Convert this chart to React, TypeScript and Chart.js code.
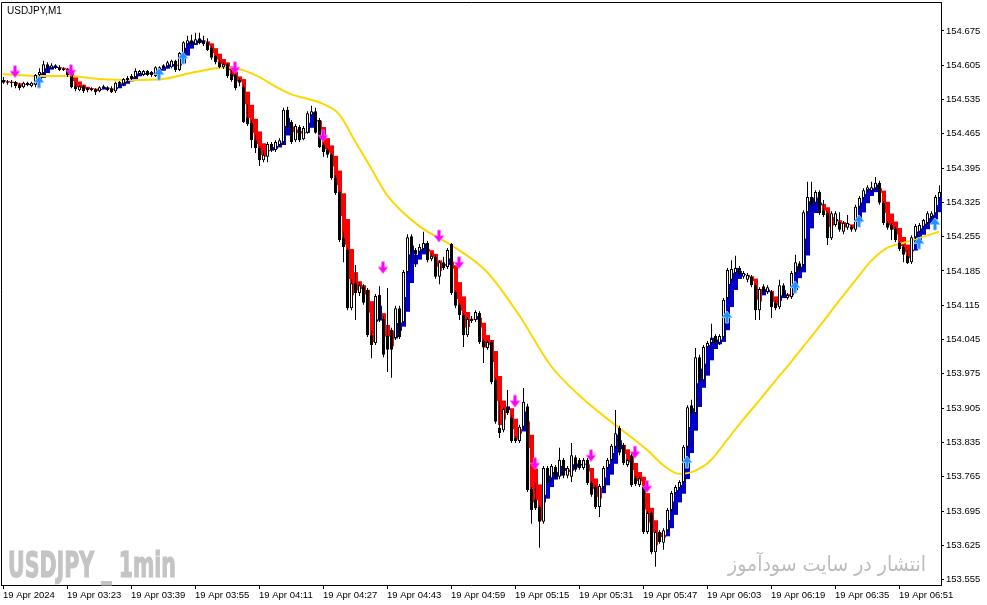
import React, { useEffect, useRef } from "react";
import { Chart, registerables } from "chart.js";

Chart.register(...registerables);

const chartTitle = "USDJPY,M1";
const watermarkLeft = "USDJPY _ 1min";
const watermarkRight = "انتشار در سایت سودآموز";
const sessionDate = "19 Apr";
const firstBarMinute = 3 * 60 + 7;

const xTickLabels = [
  "19 Apr 2024", "19 Apr 03:23", "19 Apr 03:39", "19 Apr 03:55", "19 Apr 04:11",
  "19 Apr 04:27", "19 Apr 04:43", "19 Apr 04:59", "19 Apr 05:15", "19 Apr 05:31",
  "19 Apr 05:47", "19 Apr 06:03", "19 Apr 06:19", "19 Apr 06:35", "19 Apr 06:51",
];

const priceTicks = [
  153.555, 153.625, 153.695, 153.765, 153.835, 153.905, 153.975, 154.045, 154.115,
  154.185, 154.255, 154.325, 154.395, 154.465, 154.535, 154.605, 154.675,
];

const opens = [
  154.575,154.571,154.569,154.571,154.565,154.560,154.569,154.562,154.565,154.585,
  154.589,154.607,154.599,154.605,154.601,154.595,154.597,154.585,154.562,154.554,
  154.562,154.554,154.558,154.556,154.552,154.558,154.560,154.558,154.552,154.567,
  154.567,154.575,154.579,154.581,154.587,154.585,154.593,154.591,154.583,154.595,
  154.605,154.603,154.601,154.614,154.595,154.630,154.648,154.656,154.648,154.660,
  154.656,154.652,154.640,154.624,154.611,154.601,154.607,154.587,154.585,154.575,
  154.560,154.497,154.487,154.452,154.436,154.411,154.418,154.444,154.432,154.442,
  154.448,154.514,154.489,154.452,154.479,154.454,154.467,154.503,154.511,154.493,
  154.442,154.432,154.422,154.375,154.346,154.252,154.228,154.109,154.160,154.140,
  154.154,154.146,154.054,154.038,154.136,154.087,154.052,154.065,154.048,154.109,
  154.081,154.183,154.256,154.228,154.224,154.230,154.242,154.209,154.214,154.173,
  154.203,154.193,154.240,154.142,154.116,154.095,154.054,154.087,154.085,154.099,154.042,
  154.028,154.040,153.962,153.865,153.860,153.907,153.885,153.844,153.838,153.867,
  153.909,153.740,153.718,153.703,153.673,153.783,153.762,153.785,153.765,153.799,
  153.767,153.765,153.805,153.799,153.783,153.799,153.752,153.744,153.703,153.744,
  153.783,153.799,153.826,153.865,153.830,153.789,153.809,153.762,153.748,153.744,
  153.652,153.691,153.611,153.652,153.630,153.656,153.697,153.732,153.742,153.754,
  153.826,153.911,153.895,154.009,153.962,154.030,154.038,154.052,154.038,154.050,
  154.130,154.167,154.181,154.191,154.173,154.167,154.173,154.156,154.105,154.154,
  154.142,154.142,154.120,154.111,154.156,154.130,154.132,154.181,154.201,154.197,
  154.305,154.336,154.324,154.346,154.309,154.303,154.252,154.279,154.285,154.265,
  154.273,154.275,154.269,154.316,154.334,154.350,154.348,154.354,154.365,154.324,
  154.283,154.279,154.271,154.242,154.234,154.216,154.203,154.254,154.265,154.275,
  154.283,154.295,154.303,154.334,
];

const highs = [
  154.581,154.575,154.575,154.573,154.569,154.571,154.571,154.571,154.587,154.599,
  154.614,154.611,154.609,154.607,154.605,154.601,154.599,154.587,154.571,154.565,
  154.565,154.560,154.560,154.558,154.562,154.565,154.562,154.562,154.571,154.573,
  154.579,154.583,154.587,154.599,154.595,154.595,154.595,154.593,154.603,154.603,
  154.607,154.614,154.616,154.616,154.632,154.654,154.665,154.667,154.671,154.671,
  154.665,154.660,154.644,154.626,154.616,154.611,154.609,154.595,154.591,154.579,
  154.565,154.526,154.493,154.462,154.440,154.432,154.448,154.448,154.452,154.456,
  154.518,154.520,154.493,154.485,154.483,154.481,154.511,154.522,154.518,154.497,
  154.446,154.436,154.426,154.381,154.350,154.265,154.232,154.167,154.197,154.162,
  154.158,154.150,154.065,154.138,154.154,154.093,154.150,154.069,154.114,154.114,
  154.187,154.260,154.260,154.232,154.240,154.265,154.246,154.220,154.218,154.207,
  154.214,154.232,154.242,154.146,154.120,154.099,154.091,154.093,154.105,154.103,154.046,
  154.044,154.044,153.967,153.918,153.907,153.942,153.891,153.848,153.871,153.946,
  153.914,153.744,153.752,153.707,153.787,153.787,153.791,153.789,153.824,153.803,
  153.787,153.834,153.809,153.803,153.803,153.803,153.756,153.748,153.750,153.787,
  153.803,153.832,153.901,153.869,153.834,153.803,153.814,153.767,153.767,153.748,
  153.695,153.695,153.656,153.656,153.660,153.701,153.736,153.748,153.758,153.830,
  153.911,153.922,154.028,154.014,154.034,154.042,154.077,154.056,154.056,154.130,
  154.191,154.207,154.216,154.195,154.185,154.181,154.177,154.160,154.152,154.158,
  154.156,154.146,154.126,154.167,154.160,154.140,154.185,154.218,154.205,154.309,
  154.367,154.367,154.350,154.350,154.330,154.307,154.307,154.307,154.305,154.287,
  154.299,154.279,154.320,154.338,154.354,154.360,154.367,154.377,154.369,154.328,
  154.287,154.283,154.275,154.246,154.238,154.228,154.258,154.281,154.283,154.291,
  154.307,154.307,154.340,154.360,
];

const lows = [
  154.567,154.565,154.560,154.558,154.554,154.558,154.562,154.560,154.560,154.579,
  154.585,154.595,154.597,154.597,154.593,154.593,154.581,154.558,154.552,154.552,
  154.548,154.550,154.552,154.544,154.550,154.556,154.552,154.548,154.548,154.560,
  154.562,154.571,154.575,154.579,154.583,154.583,154.583,154.581,154.581,154.591,
  154.597,154.599,154.599,154.591,154.593,154.626,154.644,154.644,154.646,154.648,
  154.644,154.634,154.616,154.607,154.599,154.597,154.579,154.571,154.554,154.562,
  154.487,154.481,154.436,154.426,154.399,154.407,154.407,154.428,154.428,154.438,
  154.444,154.477,154.444,154.448,154.448,154.452,154.465,154.501,154.465,154.436,
  154.418,154.416,154.371,154.340,154.244,154.203,154.105,154.105,154.085,154.134,
  154.116,154.050,154.007,154.034,154.081,154.009,153.979,153.967,154.044,154.046,
  154.077,154.179,154.207,154.193,154.220,154.228,154.203,154.205,154.169,154.158,
  154.187,154.189,154.136,154.109,154.085,154.030,154.050,154.079,154.081,154.036,153.997,
  154.024,153.954,153.873,153.844,153.856,153.891,153.834,153.834,153.834,153.862,
  153.734,153.669,153.697,153.620,153.669,153.748,153.758,153.760,153.760,153.762,
  153.762,153.754,153.775,153.779,153.779,153.748,153.724,153.699,153.683,153.740,
  153.779,153.795,153.822,153.809,153.789,153.785,153.744,153.746,153.744,153.648,
  153.648,153.607,153.581,153.628,153.616,153.652,153.693,153.728,153.738,153.750,
  153.822,153.891,153.891,153.958,153.958,154.026,154.034,154.034,154.034,154.046,
  154.126,154.162,154.177,154.175,154.169,154.162,154.152,154.085,154.085,154.138,
  154.138,154.089,154.105,154.107,154.132,154.126,154.128,154.177,154.183,154.193,
  154.301,154.316,154.320,154.299,154.295,154.238,154.248,154.275,154.265,154.260,
  154.269,154.265,154.265,154.311,154.330,154.346,154.344,154.350,154.320,154.279,
  154.269,154.248,154.244,154.226,154.203,154.199,154.199,154.250,154.260,154.271,
  154.279,154.291,154.299,154.330,
];

const closes = [
  154.569,154.569,154.571,154.562,154.558,154.569,154.565,154.569,154.585,154.591,
  154.607,154.599,154.605,154.601,154.595,154.597,154.585,154.560,154.556,154.562,
  154.552,154.558,154.554,154.550,154.560,154.562,154.554,154.550,154.569,154.571,
  154.577,154.579,154.583,154.593,154.593,154.593,154.585,154.585,154.601,154.601,
  154.599,154.611,154.614,154.595,154.630,154.652,154.656,154.648,154.658,154.650,
  154.648,154.636,154.620,154.611,154.601,154.607,154.583,154.575,154.558,154.569,
  154.489,154.485,154.452,154.436,154.411,154.422,154.444,154.432,154.448,154.452,
  154.514,154.479,154.448,154.481,154.452,154.477,154.507,154.511,154.467,154.438,
  154.428,154.422,154.375,154.344,154.248,154.234,154.109,154.160,154.140,154.156,
  154.120,154.054,154.034,154.134,154.085,154.014,154.024,154.024,154.109,154.050,
  154.183,154.254,154.224,154.218,154.234,154.242,154.207,154.216,154.173,154.203,
  154.191,154.228,154.140,154.114,154.095,154.054,154.087,154.083,154.101,154.040,154.030,
  154.040,153.958,153.877,153.854,153.903,153.895,153.838,153.838,153.867,153.918,
  153.738,153.697,153.701,153.673,153.783,153.752,153.787,153.765,153.799,153.767,
  153.783,153.809,153.779,153.783,153.799,153.752,153.728,153.703,153.746,153.783,
  153.799,153.828,153.854,153.814,153.793,153.799,153.748,153.750,153.762,153.652,
  153.691,153.611,153.652,153.632,153.656,153.697,153.732,153.744,153.754,153.826,
  153.907,153.895,154.009,153.962,154.030,154.038,154.046,154.038,154.052,154.126,
  154.187,154.189,154.191,154.179,154.181,154.177,154.156,154.105,154.148,154.142,
  154.152,154.111,154.109,154.156,154.136,154.136,154.181,154.203,154.187,154.305,
  154.336,154.320,154.346,154.303,154.299,154.252,154.303,154.303,154.269,154.283,
  154.283,154.269,154.316,154.334,154.350,154.356,154.356,154.365,154.324,154.283,
  154.273,154.269,154.248,154.230,154.218,154.201,154.254,154.277,154.279,154.289,
  154.303,154.303,154.336,154.346,
];

const maBars = [
  0, 8, 16, 24, 32, 40, 48, 56, 60, 64, 68, 72, 80, 84, 88, 92, 96, 104, 112, 121,
  129, 137, 145, 153, 161, 165, 169, 173, 177, 181, 185, 189, 193, 197, 201, 205,
  209, 213, 217, 221, 225, 229, 234,
];
const maValues = [
  154.587, 154.583, 154.583, 154.577, 154.575, 154.577, 154.591, 154.601, 154.595, 154.581,
  154.562, 154.546, 154.526, 154.505, 154.450, 154.395, 154.340, 154.277, 154.238, 154.183,
  154.095, 153.991, 153.924, 153.871, 153.820, 153.789, 153.771, 153.777, 153.799, 153.840,
  153.881, 153.920, 153.960, 153.999, 154.040, 154.081, 154.124, 154.165, 154.205, 154.232,
  154.242, 154.252, 154.265,
];

const sellArrowBars = [3, 17, 58, 80, 95, 109, 114, 128, 133, 147, 158, 161];
const sellArrowPrices = [
  154.592, 154.594, 154.600, 154.461, 154.192, 154.256, 154.202, 153.919, 153.792, 153.808,
  153.815, 153.745,
];
const buyArrowBars = [9, 39, 45, 171, 181, 198, 214, 229, 233];
const buyArrowPrices = [
  154.571, 154.587, 154.620, 153.795, 154.091, 154.152, 154.287, 154.242, 154.281,
];

const Y_MIN = 153.544;
const Y_MAX = 154.734;
const BAR_SLOTS = 235;

const HA_UP = "#0000CD";
const HA_DOWN = "#FF0000";
const MA_COLOR = "#FFD700";
const FONT = "'Liberation Sans', 'DejaVu Sans', sans-serif";

function makeArrow(up: boolean, fill: string, edge: string): HTMLCanvasElement {
  const c = document.createElement("canvas");
  c.width = 12;
  c.height = 14;
  const g = c.getContext("2d") as CanvasRenderingContext2D;
  g.save();
  if (up) {
    g.translate(0, 14);
    g.scale(1, -1);
  }
  g.beginPath();
  g.moveTo(4.5, 1);
  g.lineTo(7.5, 1);
  g.lineTo(7.5, 6.5);
  g.lineTo(11, 6.5);
  g.lineTo(6, 13);
  g.lineTo(1, 6.5);
  g.lineTo(4.5, 6.5);
  g.closePath();
  g.fillStyle = fill;
  g.fill();
  g.strokeStyle = edge;
  g.lineWidth = 1;
  g.stroke();
  g.restore();
  return c;
}

function barLabel(i: number): string {
  const m = firstBarMinute + i;
  const hh = String(Math.floor(m / 60)).padStart(2, "0");
  const mm = String(m % 60).padStart(2, "0");
  return `${sessionDate} ${hh}:${mm}`;
}

export default function App() {
  const ref = useRef<HTMLCanvasElement>(null);

  useEffect(() => {
    document.body.style.margin = "0";
    const canvas = ref.current;
    if (!canvas) return;

    const n = opens.length;
    const labels = Array.from({ length: BAR_SLOTS }, (_, i) => barLabel(i));

    // Heiken Ashi bodies derived from the candles
    const haO: number[] = [];
    const haC: number[] = [];
    for (let i = 0; i < n; i++) {
      const c = (opens[i] + highs[i] + lows[i] + closes[i]) / 4;
      const o = i === 0 ? (opens[0] + closes[0]) / 2 : (haO[i - 1] + haC[i - 1]) / 2;
      haO.push(o);
      haC.push(c);
    }

    const haData = haO.map((o, i) => [o, haC[i]]);
    const haColors = haO.map((o, i) => (haC[i] >= o ? HA_UP : HA_DOWN));
    const wickData = lows.map((l, i) => [l, highs[i]]);
    const bodyData = opens.map((o, i) => [o, closes[i]]);
    const bodyColors = opens.map((o, i) => (closes[i] >= o ? "#FFFFFF" : "#000000"));

    const maData: (number | null)[] = Array(BAR_SLOTS).fill(null);
    maBars.forEach((b, k) => (maData[b] = maValues[k]));
    const sellData: (number | null)[] = Array(BAR_SLOTS).fill(null);
    sellArrowBars.forEach((b, k) => (sellData[b] = sellArrowPrices[k]));
    const buyData: (number | null)[] = Array(BAR_SLOTS).fill(null);
    buyArrowBars.forEach((b, k) => (buyData[b] = buyArrowPrices[k]));

    const downImg = makeArrow(false, "#FF00FF", "rgba(255,120,255,0.6)");
    const upImg = makeArrow(true, "#1E90FF", "rgba(140,200,255,0.95)");

    const shifts: Record<number, number> = { 0: 1, 1: 0.5, 2: 0.5 };

    const overlay = {
      id: "mtOverlay",
      beforeDatasetsDraw(chart: any) {
        const ctx = chart.ctx as CanvasRenderingContext2D;
        ctx.save();
        ctx.fillStyle = "#C4C4C4";
        ctx.strokeStyle = "#C4C4C4";
        ctx.lineWidth = 1.2;
        ctx.font = "bold 36px 'Liberation Sans Narrow', 'DejaVu Sans Condensed', 'Liberation Sans', sans-serif";
        ctx.textBaseline = "alphabetic";
        ctx.textAlign = "left";
        const w1 = ctx.measureText(watermarkLeft).width;
        ctx.translate(8, 577);
        ctx.scale(168 / w1, 1);
        ctx.fillText(watermarkLeft, 0, 0);
        ctx.strokeText(watermarkLeft, 0, 0);
        ctx.restore();

        ctx.save();
        ctx.fillStyle = "#BDBDBD";
        ctx.font = "21px 'DejaVu Sans', 'Noto Sans', sans-serif";
        ctx.textBaseline = "alphabetic";
        ctx.direction = "rtl";
        ctx.textAlign = "right";
        const w2 = ctx.measureText(watermarkRight).width;
        ctx.translate(926, 571);
        ctx.scale(198 / w2, 1);
        ctx.fillText(watermarkRight, 0, 0);
        ctx.restore();
      },
      beforeDatasetDraw(chart: any, args: any) {
        const ctx = chart.ctx as CanvasRenderingContext2D;
        ctx.save();
        const s = shifts[args.index];
        if (s) ctx.translate(s, 0);
      },
      afterDatasetDraw(chart: any) {
        chart.ctx.restore();
      },
      afterDraw(chart: any) {
        const ctx = chart.ctx as CanvasRenderingContext2D;
        const a = chart.chartArea;
        ctx.save();
        ctx.strokeStyle = "#000";
        ctx.lineWidth = 1;
        ctx.beginPath();
        ctx.moveTo(a.left + 0.5, a.bottom);
        ctx.lineTo(a.left + 0.5, a.top + 0.5);
        ctx.lineTo(a.right, a.top + 0.5);
        ctx.stroke();
        ctx.fillStyle = "#000";
        ctx.font = `10px ${FONT}`;
        ctx.textBaseline = "alphabetic";
        ctx.textAlign = "left";
        ctx.fillText(chartTitle, 7, 14);
        ctx.restore();
      },
    };

    const chart = new Chart(canvas, {
      type: "bar",
      data: {
        labels,
        datasets: [
          {
            label: "HA",
            data: haData as any,
            backgroundColor: haColors,
            barThickness: 4,
            grouped: false,
            borderWidth: 0,
            inflateAmount: 0,
            minBarLength: 1,
            order: 6,
          } as any,
          {
            label: "wick",
            data: wickData as any,
            backgroundColor: "#000000",
            barThickness: 1,
            grouped: false,
            borderWidth: 0,
            inflateAmount: 0,
            order: 4,
          } as any,
          {
            label: "body",
            data: bodyData as any,
            backgroundColor: bodyColors,
            borderColor: "#000000",
            borderWidth: 1,
            borderSkipped: false,
            barThickness: 3,
            grouped: false,
            inflateAmount: 0,
            minBarLength: 1,
            order: 3,
          } as any,
          {
            type: "line",
            label: "MA",
            data: maData,
            borderColor: MA_COLOR,
            borderWidth: 2,
            pointRadius: 0,
            spanGaps: true,
            cubicInterpolationMode: "monotone",
            order: 5,
          } as any,
          {
            type: "line",
            label: "sell",
            data: sellData,
            showLine: false,
            pointStyle: downImg,
            pointRadius: 6,
            order: 2,
          } as any,
          {
            type: "line",
            label: "buy",
            data: buyData,
            showLine: false,
            pointStyle: upImg,
            pointRadius: 6,
            order: 1,
          } as any,
        ],
      },
      options: {
        responsive: false,
        devicePixelRatio: 1,
        animation: false,
        events: [],
        layout: { autoPadding: false, padding: { left: 1, top: 2, right: 0, bottom: 0 } },
        plugins: { legend: { display: false }, tooltip: { enabled: false } },
        scales: {
          x: {
            type: "category",
            offset: true,
            grid: {
              display: true,
              drawOnChartArea: false,
              drawTicks: true,
              tickLength: 4,
              color: "#000000",
              offset: false,
            },
            border: { display: true, color: "#000000" },
            ticks: {
              autoSkip: false,
              maxRotation: 0,
              minRotation: 0,
              align: "start",
              padding: 1,
              color: "#000000",
              font: { family: FONT, size: 9.5 },
              callback: (v: any) => (Number(v) % 16 === 0 ? xTickLabels[Number(v) / 16] ?? "" : ""),
            },
            afterBuildTicks: (s: any) => {
              s.ticks = s.ticks.filter((t: any) => t.value % 16 === 0);
            },
            afterFit: (s: any) => {
              s.height = 20;
              s.paddingLeft = 0;
              s.paddingRight = 0;
            },
          } as any,
          y: {
            position: "right",
            min: Y_MIN,
            max: Y_MAX,
            grid: {
              display: true,
              drawOnChartArea: false,
              drawTicks: true,
              tickLength: 3,
              color: "#000000",
            },
            border: { display: true, color: "#000000" },
            ticks: {
              color: "#000000",
              padding: 2,
              font: { family: FONT, size: 9.5 },
              callback: (v: any) => Number(v).toFixed(3),
            },
            afterBuildTicks: (s: any) => {
              s.ticks = priceTicks.map((v) => ({ value: v }));
            },
            afterFit: (s: any) => {
              s.width = 46;
              s.paddingTop = 0;
              s.paddingBottom = 0;
            },
          } as any,
        },
      },
      plugins: [overlay as any],
    });

    return () => chart.destroy();
  }, []);

  return (
    <div style={{ position: "absolute", left: 0, top: 0, width: 987, height: 605, background: "#ffffff" }}>
      <canvas ref={ref} width={987} height={605} style={{ display: "block", width: 987, height: 605 }} />
    </div>
  );
}
